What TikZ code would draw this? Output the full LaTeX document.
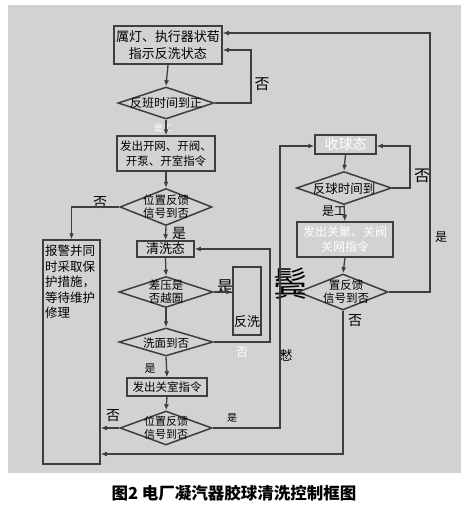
\documentclass[tikz,border=0pt]{standalone}
\usepackage{fontspec}
\setmainfont{Noto Sans CJK SC}
\usetikzlibrary{shapes.geometric,arrows.meta}
\definecolor{bg}{RGB}{210,210,210}
\definecolor{ln}{RGB}{62,62,62}
\begin{document}
\begin{tikzpicture}[x=1pt,y=-1pt,
  every node/.style={font=\fontsize{12}{14}\selectfont},
  box/.style={draw=ln,line width=1.5pt,rectangle,inner sep=0pt,align=center},
  dia/.style={draw=ln,line width=1.5pt,diamond,inner sep=0pt},
  lbl/.style={inner sep=0pt,align=center},
  arr/.style={draw=ln,line width=1.3pt,-{Latex[length=6pt,width=5pt]}},
  con/.style={draw=ln,line width=1.3pt}]
\useasboundingbox (0,0) rectangle (469,507);
\fill[white] (0,0) rectangle (469,507);
\fill[bg] (8,5) rectangle (461,473);

% left column
\node[box,minimum width=108pt,minimum height=38pt,font=\fontsize{13}{17}\selectfont] (b1) at (168,45) {厲灯、执行器状荀\\指示反洗状态};
\node[dia,minimum width=96pt,minimum height=32pt] (d1) at (166,103) {};
\node[lbl,font=\fontsize{12}{14}\selectfont] (d1t) at (166,103) {反班时间到正};
\node[box,minimum width=98pt,minimum height=35pt,font=\fontsize{11.5}{15}\selectfont] (b2) at (166,153.5) {发出开网、开阀、\\开泵、开室指令};
\node[dia,minimum width=92pt,minimum height=37pt] (d2) at (166,207) {};
\node[lbl,font=\fontsize{11.5}{13}\selectfont] (d2t) at (166,207) {位置反馈\\信号到否};
\node[box,minimum width=57pt,minimum height=224pt] (b3) at (71.5,352) {};
\node[lbl,anchor=north west,align=left,font=\fontsize{12.5}{15.5}\selectfont] (b3t) at (45,245) {报警并同\\时采取保\\护措施，\\等待维护\\修理};
\node[box,minimum width=57pt,minimum height=16pt,font=\fontsize{13}{15}\selectfont] (b4) at (165.5,249) {清洗态};
\node[dia,minimum width=94pt,minimum height=31pt] (d3) at (166,292) {};
\node[lbl,font=\fontsize{11.5}{13}\selectfont] (d3t) at (166,292) {差压是\\否越圄};
\node[box,minimum width=28pt,minimum height=68pt] (b5) at (247,301) {};
\node[lbl,font=\fontsize{13}{15}\selectfont] (b5t) at (247,322) {反洗};
\node[dia,minimum width=94pt,minimum height=28pt] (d4) at (166,342) {};
\node[lbl,font=\fontsize{11.5}{13}\selectfont] (d4t) at (166,343) {洗面到否};
\node[box,minimum width=80pt,minimum height=18pt,font=\fontsize{11.5}{13}\selectfont] (b6) at (167,387) {发出关室指令};
\node[dia,minimum width=92pt,minimum height=34pt] (d5) at (166,428) {};
\node[lbl,font=\fontsize{11}{13}\selectfont] (d5t) at (166,428) {位置反馈\\信号到否};

% right column
\node[box,minimum width=61pt,minimum height=19pt,text=white,font=\fontsize{14}{16}\selectfont] (b7) at (345.5,144.5) {收球态};
\node[dia,minimum width=95pt,minimum height=33pt] (d6) at (344,188) {};
\node[lbl,font=\fontsize{12.5}{14}\selectfont] (d6t) at (344,189) {反球时间到};
\node[box,minimum width=96pt,minimum height=35pt,text=white,font=\fontsize{12}{15}\selectfont] (b8) at (345,239.5) {发出关聚、关阀\\关网指令};
\node[dia,minimum width=90pt,minimum height=36pt] (d7) at (343,292) {};
\node[lbl,font=\fontsize{11.5}{13}\selectfont] (d7t) at (346,292) {置反馈\\信号到否};

% labels
\node[lbl,font=\fontsize{15}{16}\selectfont] (l1) at (262,84) {否};
\node[lbl,text=white,font=\fontsize{9}{10}\selectfont] (l2) at (163,128) {是工};
\node[lbl,font=\fontsize{14}{15}\selectfont] (l3) at (100,203) {否};
\node[lbl,font=\fontsize{14}{15}\selectfont] (l4) at (179,233) {是};
\node[lbl,font=\fontsize{16}{17}\selectfont] (l5) at (225,287) {是};
\node[lbl,text=white,font=\fontsize{12}{13}\selectfont] (l6) at (242,352) {否};
\node[lbl,font=\fontsize{11}{12}\selectfont] (l7) at (150,369) {是};
\node[lbl,font=\fontsize{14}{15}\selectfont] (l8) at (113,416) {否};
\node[lbl,font=\fontsize{10}{11}\selectfont] (l9) at (232,418) {是};
\node[lbl,font=\fontsize{16}{17}\selectfont] (l10) at (422,176) {否};
\node[lbl,font=\fontsize{12}{13}\selectfont] (l11) at (334,211) {是工};
\node[lbl,font=\fontsize{12}{13}\selectfont] (l12) at (441,237) {是};
\node[lbl,font=\fontsize{14}{15}\selectfont] (l13) at (355,321) {否};
\node[lbl,font=\fontsize{34}{36}\selectfont] (l14) at (290,284) {鬓};
\node[lbl,font=\fontsize{13}{14}\selectfont] (l15) at (286,355) {慭};

% caption
\node[lbl,font=\fontsize{16.5}{18}\selectfont\bfseries] (cap) at (234,493) {图2 电厂凝汽器胶球清洗控制框图};

% coordinates
\coordinate (c1) at (251,50);
\coordinate (c2) at (270,249);
\coordinate (c3) at (280,146);
\coordinate (c4) at (410,146);
\coordinate (c5) at (430,33);
\coordinate (c6) at (343,454);

% connectors
\draw[arr] (b1.south) -- (d1.north);
\draw[arr] (d1.east) -| (c1) -- (c1 -| b1.east);
\draw[arr] (d1.south) -- (b2.north);
\draw[arr] (b2.south) -- (d2.north);
\draw[arr] (d2.west) -| (b3.north);
\draw[arr] (d2.south) -- (b4.north);
\draw[arr] (b4.south) -- (d3.north);
\draw[arr] (d3.east) -- (d3.east -| b5.west);
\draw[arr] (d3.south) -- (d4.north);
\draw[arr] (d4.east) -| (c2) -- (b4.east);
\draw[arr] (d4.south) -- (b6.north);
\draw[arr] (b6.south) -- (d5.north);
\draw[arr] (d5.west) -- (d5.west -| b3.east);
\draw[arr] (d5.east) -| (c3) -- (c3 -| b7.west);
\draw[arr] (b7.south) -- (d6.north);
\draw[arr] (d6.east) -| (c4) -- (c4 -| b7.east);
\draw[arr] (d6.south) -- (b8.north);
\draw[arr] (b8.south) -- (d7.north);
\draw[arr] (d7.east) -| (c5) -- (c5 -| b1.east);
\draw[arr] (d7.south) -- (c6) -- (c6 -| b3.east);
\end{tikzpicture}
\end{document}
